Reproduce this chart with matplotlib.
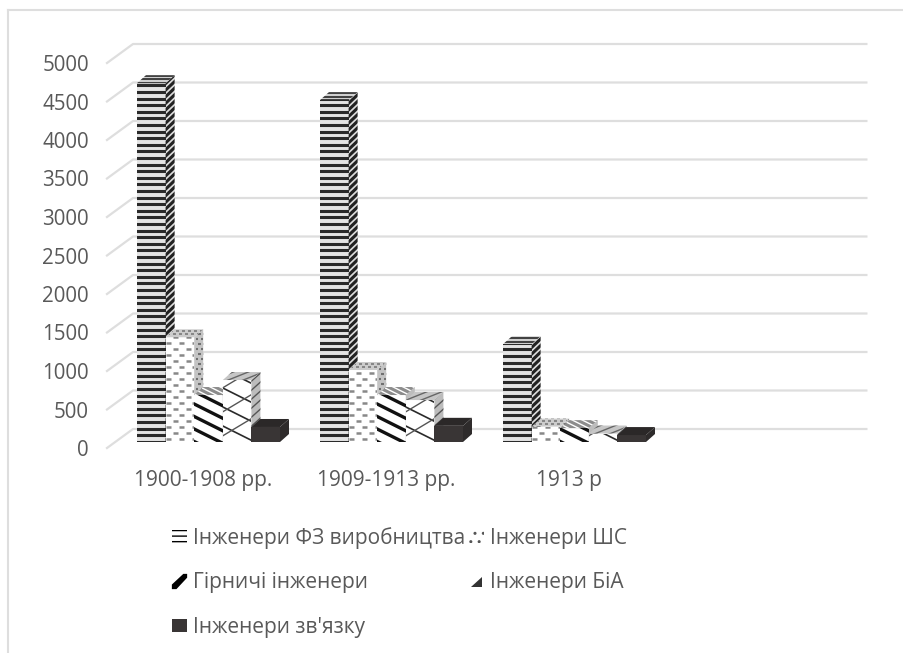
#!/usr/bin/env python3
"""grouped pseudo-3d bars: engineers by speciality, patterned fills."""

import matplotlib
matplotlib.use("Agg")
import matplotlib.pyplot as plt
import numpy as np
from matplotlib.collections import LineCollection
from matplotlib.lines import Line2D
from matplotlib.patches import Patch, Polygon
from matplotlib.transforms import IdentityTransform

periods = ["1900-1908 рр.", "1909-1913 рр.", "1913 р"]
series_names = ["Інженери ФЗ виробництва", "Інженери ШС", "Гірничі інженери",
                "Інженери БіА", "Інженери зв'язку"]
fz = [4660, 4440, 1270]
shs = [1360, 935, 200]
girn = [610, 610, 180]
bia = [805, 545, 110]
zv = [195, 210, 90]
yticks = [0, 500, 1000, 1500, 2000, 2500, 3000, 3500, 4000, 4500, 5000]

W, H = 904, 653
GREY = "#595959"
GRID = "#dedede"
FONT = "Open Sans"

plt.rcParams["font.family"] = [FONT, "DejaVu Sans"]
fig = plt.figure(figsize=(W / 100, H / 100), dpi=100)

# axes box in pixels: x 107..842, value 0 at y=448, 5000 at y=63
ax = fig.add_axes([107 / W, 1 - 448 / H, 735 / W, 385 / H])
ax.set_xlim(-96 / 183, 639 / 183)
ax.set_ylim(0, 5000)
for s in ax.spines.values():
    s.set_visible(False)
ax.set_xticks(range(len(periods)))
ax.set_xticklabels(periods, fontsize=15, color=GREY)
ax.set_yticks(yticks)
ax.tick_params(axis="y", length=0, pad=13, labelsize=14.8, labelcolor=GREY)
ax.tick_params(axis="x", length=0, pad=16)

px_x = 1 / 183        # data units per pixel
px_y = 5000 / 385


def face_pixels(verts):
    return ax.transData.transform(verts)


def clipped_lines(face, segs, color="black", lw=1.0, z=3):
    lc = LineCollection(segs, colors=color, linewidths=lw, transform=IdentityTransform(),
                        zorder=z, capstyle="butt")
    ax.add_collection(lc, autolim=False)
    lc.set_clip_path(face)


def stripes(face, verts, slope, period, color="black", lw=1.0, z=3, phase=0):
    """parallel lines with a slope in pixels, clipped to the face."""
    p = face_pixels(verts)
    x0, x1 = p[:, 0].min() - 2, p[:, 0].max() + 2
    y0, y1 = p[:, 1].min(), p[:, 1].max()
    span = abs(slope) * (x1 - x0)
    offs = np.arange(np.floor((y0 - span) / period) * period + phase, y1 + span + period, period)
    segs = [[(x0, c), (x1, c + slope * (x1 - x0))] for c in offs]
    clipped_lines(face, segs, color, lw, z)


def dots(face, verts, dx, dy, size, color, lw, z=3):
    p = face_pixels(verts)
    x0, x1 = p[:, 0].min(), p[:, 0].max()
    y0, y1 = p[:, 1].min(), p[:, 1].max()
    segs = []
    for i, y in enumerate(np.arange(y0 + 3, y1 + dy, dy)):
        off = dx / 2 if i % 2 else 0
        for x in np.arange(x0 + 3 + off, x1 + dx, dx):
            segs.append([(x - size / 2, y), (x + size / 2, y)])
    clipped_lines(face, segs, color, lw, z)


def add_face(verts, fc, z):
    poly = Polygon(verts, closed=True, facecolor=fc, edgecolor="none", zorder=z)
    ax.add_patch(poly)
    return poly


# back wall and floor lines, pushed back by 26 x 19 px
wall_dx, wall_dy = 26 * px_x, 19 * px_y
xl = ax.get_xlim()
for v in yticks:
    ax.plot([xl[0], xl[0] + wall_dx, 3.625], [v, v + wall_dy, v + wall_dy],
            color=GRID, lw=1.6, clip_on=False, zorder=1)

# bars
bar_w = 28.6 * px_x
depth_x, depth_y = 9 * px_x, 8 * px_y
base = 6 * px_y
start = -66 * px_x
all_series = [fz, shs, girn, bia, zv]

for k, vals in enumerate(all_series):
    z = 3 + k
    xs = np.arange(len(vals)) + start + k * bar_w
    bars = ax.bar(xs, vals, width=bar_w, bottom=base, align="edge", color="white", zorder=z)
    for rect, v in zip(bars, vals):
        x0 = rect.get_x()
        x1 = x0 + rect.get_width()
        t = base + v
        front = [(x0, base), (x1, base), (x1, t), (x0, t)]
        side = [(x1, base), (x1 + depth_x, base + depth_y), (x1 + depth_x, t + depth_y), (x1, t)]
        top = [(x0, t), (x1, t), (x1 + depth_x, t + depth_y), (x0 + depth_x, t + depth_y)]
        if k == 0:
            rect.set_facecolor("#e4e4e4")
            pf = add_face(side, "#dcdcdc", z)
            stripes(pf, side, 0.95, 6.6, "#222222", 2.2, z)
            pf = add_face(top, "#cfcfcf", z)
            stripes(pf, top, 0, 3.5, "#333333", 1.3, z)
            stripes(rect, front, 0, 6.6, "#2a2a2a", 2.2, z)
        elif k == 1:
            pf = add_face(side, "#c4c4c4", z)
            dots(pf, side, 5, 5, 2.5, "#707070", 1.5, z)
            pf = add_face(top, "#cccccc", z)
            dots(pf, top, 6, 3, 2.5, "#808080", 1.3, z)
            dots(rect, front, 13, 6, 5, "#888888", 1.8, z)
        elif k == 2:
            pf = add_face(side, "#bdbdbd", z)
            pf = add_face(top, "#8c8c8c", z)
            stripes(pf, top, -0.5, 5, "white", 1.0, z)
            stripes(rect, front, -0.5, 12.5, "#111111", 2.4, z)
        elif k == 3:
            pf = add_face(side, "#bcbcbc", z)
            stripes(pf, side, 0.9, 9, "#555555", 1.0, z)
            pf = add_face(top, "#c6c6c6", z)
            stripes(pf, top, 0.4, 6, "#666666", 1.0, z)
            stripes(rect, front, -0.5, 19, "#2a2a2a", 1.2, z)
            stripes(rect, front, 0.6, 24, "#555555", 1.0, z)
        else:
            rect.set_facecolor("#393535")
            add_face(side, "#2e2b2b", z)
            add_face(top, "#2b2828", z)

# outer frame: only top and left edges show in the picture
for xy in [([8, W], [9.5, 9.5]), ([8, 8], [9.5, H])]:
    fig.add_artist(Line2D(np.array(xy[0]) / W, 1 - np.array(xy[1]) / H, color=GRID, lw=1.5))

# legend, column-first order gives the two-column layout of the original
diag = [(-1, -1), (-0.4, -1), (1, 0.5), (1, 1), (0.5, 1), (-1, -0.4)]
wedge = [(-0.9, -0.8), (0.7, -0.8), (0.7, 0.6)]
handles = [Patch(facecolor="white", edgecolor="black", hatch="---", lw=0),
           Line2D([], [], ls="none", marker=diag, ms=11, color="black", mew=0),
           Patch(facecolor="#393535", edgecolor="none"),
           Patch(facecolor="white", edgecolor="#555555", hatch="..", lw=0),
           Line2D([], [], ls="none", marker=wedge, ms=9, color="#333333", mew=0)]
labels = [series_names[i] for i in [0, 2, 4, 1, 3]]
fig.legend(handles, labels, ncols=2, frameon=False, fontsize=15, labelcolor=GREY,
           loc="upper left", bbox_to_anchor=(172 / W, 1 - 527 / H), bbox_transform=fig.transFigure,
           borderaxespad=0, borderpad=0.0, handlelength=0.7, handleheight=0.6, handletextpad=0.3,
           labelspacing=1.13, columnspacing=0.2)

fig.savefig("out.png", dpi=100)
